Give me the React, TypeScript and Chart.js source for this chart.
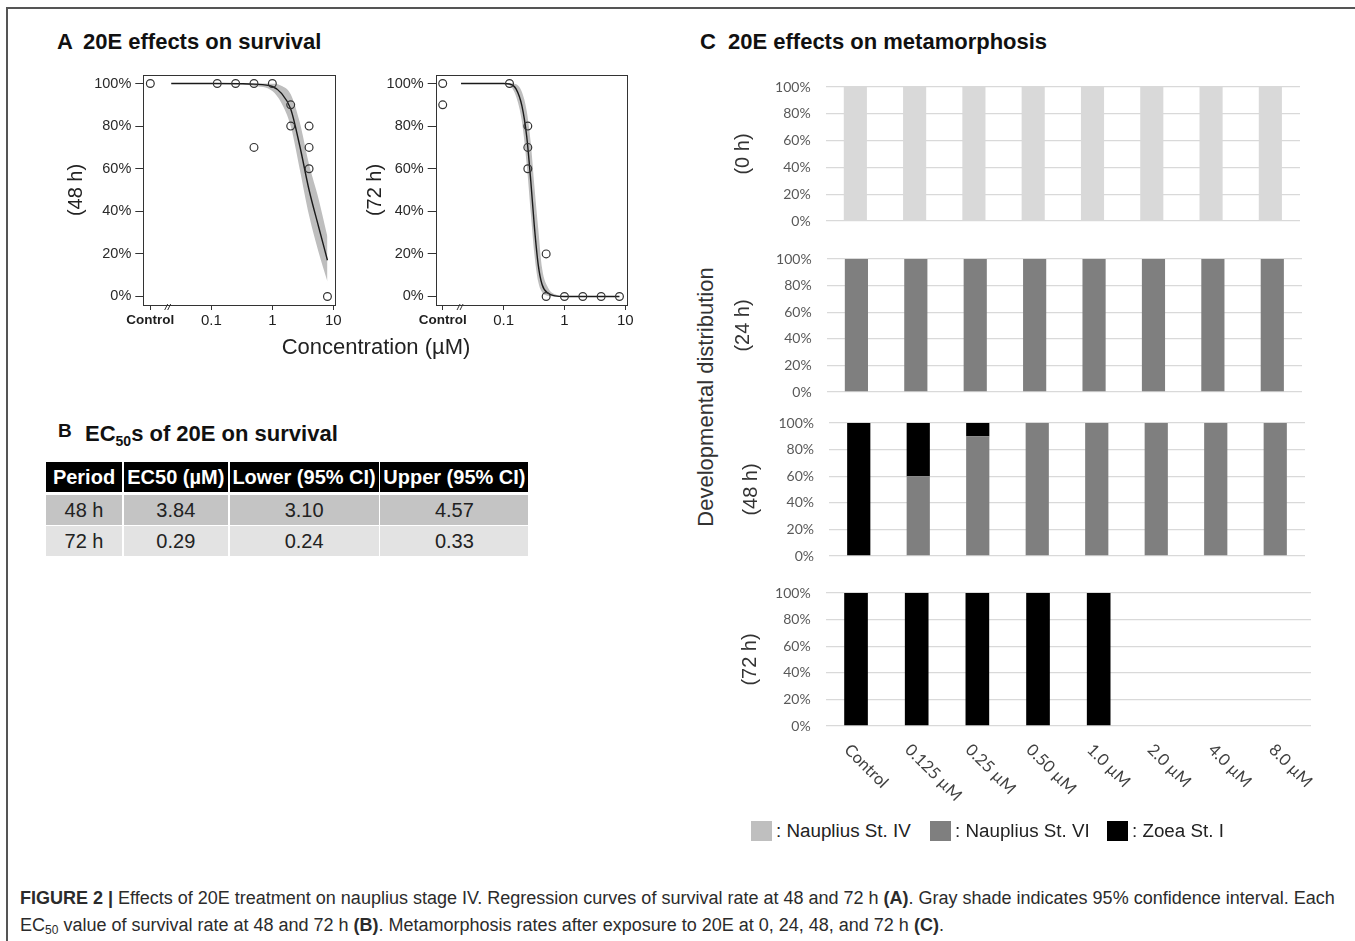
import React, { useEffect, useRef } from 'react';
import { Chart, registerables } from 'chart.js';

Chart.register(...registerables);

const SANS = '"Liberation Sans", Arial, Helvetica, sans-serif';
const XL = 'Lato, "Open Sans", sans-serif';

// ---------------- Panel A: survival (µM, log scale; Control drawn at 0.01) ----------------
const controlPosition = 0.01;
const axisBreakAt = 0.02;
const xTickValues = [0.01, 0.1, 1, 10];
const xTickLabels = ['Control', '0.1', '1', '10'];
const yTickValuesA = [0, 20, 40, 60, 80, 100];

const obs48Conc = [controlPosition, 0.125, 0.25, 0.5, 0.5, 1, 2, 2, 4, 4, 4, 8];
const obs48Surv = [100, 100, 100, 100, 70, 100, 90, 80, 80, 70, 60, 0];
const fit48Conc = [0.022, 0.1, 0.3, 0.5, 1, 1.4, 2, 2.8, 4, 5.7, 8];
const fit48Surv = [100, 100, 99.9, 99.7, 98.6, 95.5, 88, 71, 50, 33, 17];
const fit48Upper = [100, 100, 100, 100, 99.9, 99, 95, 82, 62, 46, 28];
const fit48Lower = [100, 100, 99.7, 99, 96.5, 91, 80, 60, 38, 21, 7];

const obs72Conc = [controlPosition, controlPosition, 0.125, 0.25, 0.25, 0.25, 0.5, 0.5, 1, 2, 4, 8];
const obs72Surv = [100, 90, 100, 80, 70, 60, 20, 0, 0, 0, 0, 0];
const fit72Conc = [0.02, 0.1, 0.125, 0.16, 0.2, 0.24, 0.28, 0.32, 0.37, 0.43, 0.54, 0.7, 1, 8];
const fit72Surv = [100, 100, 99.8, 97.5, 89.5, 75, 54, 33, 15, 5.5, 1.5, 0.3, 0, 0];
const fit72Upper = [100, 100, 100, 99.6, 96, 87, 72, 52, 32, 13, 4, 1, 0.2, 0];
const fit72Lower = [100, 100, 99.2, 94, 82, 62, 39, 20, 7, 2, 0.3, 0, 0, 0];

// ---------------- Panel B: EC50 table ----------------
const tableHeader = ['Period', 'EC50 (µM)', 'Lower (95% CI)', 'Upper (95% CI)'];
const tableRows = [
  ['48 h', '3.84', '3.10', '4.57'],
  ['72 h', '0.29', '0.24', '0.33'],
];

// ---------------- Panel C: metamorphosis ----------------
const categories = ['Control', '0.125 µM', '0.25 µM', '0.50 µM', '1.0 µM', '2.0 µM', '4.0 µM', '8.0 µM'];
const stageNames = ['Nauplius St. IV', 'Nauplius St. VI', 'Zoea St. I'];
const stageColors = ['#d9d9d9', '#7f7f7f', '#000000'];
const legendColors = ['#bfbfbf', '#7f7f7f', '#000000'];
const yTickValuesC = [0, 20, 40, 60, 80, 100];

const h0IV = [100, 100, 100, 100, 100, 100, 100, 100];
const h0VI = [0, 0, 0, 0, 0, 0, 0, 0];
const h0Zoea = [0, 0, 0, 0, 0, 0, 0, 0];
const h24IV = [0, 0, 0, 0, 0, 0, 0, 0];
const h24VI = [100, 100, 100, 100, 100, 100, 100, 100];
const h24Zoea = [0, 0, 0, 0, 0, 0, 0, 0];
const h48IV = [0, 0, 0, 0, 0, 0, 0, 0];
const h48VI = [0, 60, 90, 100, 100, 100, 100, 100];
const h48Zoea = [100, 40, 10, 0, 0, 0, 0, 0];
const h72IV = [0, 0, 0, 0, 0, 0, 0, 0];
const h72VI = [0, 0, 0, 0, 0, 0, 0, 0];
const h72Zoea = [100, 100, 100, 100, 100, 0, 0, 0];

type SurvProps = {
  title: string;
  obsX: number[]; obsY: number[];
  fitX: number[]; fitY: number[]; upper: number[]; lower: number[];
  left: number; top: number; width: number; height: number;
  yAxisWidth: number; titleOffset: number; padRight: number; padTop: number; xAxisHeight: number;
};

function SurvivalChart(p: SurvProps) {
  const ref = useRef<HTMLCanvasElement | null>(null);
  useEffect(() => {
    const canvas = ref.current;
    if (!canvas) return;
    const pts = (xs: number[], ys: number[]) => xs.map((x, i) => ({ x, y: ys[i] }));
    const frame = {
      id: 'frame',
      afterDraw(chart: any) {
        const { ctx, chartArea: a } = chart;
        const xs = chart.scales.x;
        ctx.save();
        ctx.strokeStyle = '#333';
        ctx.lineWidth = 1;
        ctx.strokeRect(Math.round(a.left) + 0.5, Math.round(a.top) + 0.5, Math.round(a.right - a.left), Math.round(a.bottom - a.top));
        const bx = xs.getPixelForValue(axisBreakAt);
        const by = a.bottom + 2;
        ctx.beginPath();
        ctx.moveTo(bx - 4, by + 3); ctx.lineTo(bx - 1, by - 3);
        ctx.moveTo(bx - 1, by + 3); ctx.lineTo(bx + 2, by - 3);
        ctx.stroke();
        ctx.restore();
      },
    };
    const chart = new Chart(canvas, {
      type: 'line',
      data: {
        datasets: [
          {
            data: pts(p.obsX, p.obsY), showLine: false, pointRadius: 3.9, pointBorderWidth: 1.2,
            pointBorderColor: '#333', pointBackgroundColor: 'rgba(255,255,255,0)', borderColor: '#333',
          },
          {
            data: pts(p.fitX, p.fitY), borderColor: '#1a1a1a', borderWidth: 1.4, pointRadius: 0,
            cubicInterpolationMode: 'monotone', fill: false,
          },
          {
            data: pts(p.fitX, p.upper), borderWidth: 0, borderColor: 'rgba(0,0,0,0)', pointRadius: 0,
            cubicInterpolationMode: 'monotone', fill: false,
          },
          {
            data: pts(p.fitX, p.lower), borderWidth: 0, borderColor: 'rgba(0,0,0,0)', pointRadius: 0,
            cubicInterpolationMode: 'monotone', fill: 2, backgroundColor: '#bebebe',
          },
        ] as any,
      },
      options: {
        animation: false,
        responsive: false,
        layout: { padding: { left: 0, top: p.padTop, right: p.padRight, bottom: 0 } },
        plugins: { legend: { display: false }, tooltip: { enabled: false } },
        scales: {
          x: {
            type: 'logarithmic', bounds: 'data', min: 0.00767, max: 10.64,
            afterBuildTicks: (s: any) => { s.ticks = xTickValues.map((v) => ({ value: v })); },
            afterFit: (s: any) => { s.height = p.xAxisHeight; },
            grid: { drawOnChartArea: false, drawTicks: true, tickLength: 5, color: '#333' },
            border: { display: false },
            ticks: {
              autoSkip: false, maxRotation: 0, minRotation: 0, padding: 2, color: '#1e1e1e',
              font: (ctx: any) => (ctx.index === 0 ? { family: SANS, size: 13.5, weight: 'bold' } : { family: SANS, size: 15 }),
              callback: (_v: any, i: number) => xTickLabels[i],
            },
          },
          y: {
            type: 'linear', bounds: 'data', min: -4, max: 104,
            afterBuildTicks: (s: any) => { s.ticks = yTickValuesA.map((v) => ({ value: v })); },
            afterFit: (s: any) => { s.width = p.yAxisWidth; },
            grid: { drawOnChartArea: false, drawTicks: true, tickLength: 8, color: '#333' },
            border: { display: false },
            ticks: { padding: 4, color: '#2a2a2a', font: { family: SANS, size: 14.5 }, callback: (v: any) => v + '%' },
            title: {
              display: true, text: p.title, color: '#222', font: { family: SANS, size: 20 },
              padding: { top: p.titleOffset - 12, bottom: 0 },
            },
          },
        },
      } as any,
      plugins: [frame],
    });
    return () => chart.destroy();
  }, []);
  return (
    <canvas ref={ref} width={p.width} height={p.height}
      style={{ position: 'absolute', left: p.left, top: p.top, width: p.width, height: p.height }} />
  );
}

type StageProps = {
  title: string; iv: number[]; vi: number[]; zoea: number[];
  left: number; top: number; width: number; height: number;
  yAxisWidth: number; titleOffset: number; padBottom: number; showLabels: boolean;
};

const C_PAD_TOP = 30;

function StageChart(p: StageProps) {
  const ref = useRef<HTMLCanvasElement | null>(null);
  useEffect(() => {
    const canvas = ref.current;
    if (!canvas) return;
    const labelPlugin = {
      id: 'rotLabels',
      afterDraw(chart: any) {
        if (!p.showLabels) return;
        const { ctx, chartArea: a } = chart;
        const xs = chart.scales.x;
        ctx.save();
        ctx.fillStyle = '#404040';
        ctx.font = `16.5px ${XL}`;
        ctx.textAlign = 'left';
        ctx.textBaseline = 'middle';
        categories.forEach((lab, i) => {
          const px = xs.getPixelForValue(i);
          ctx.save();
          ctx.translate(px - 9, a.bottom + 21);
          ctx.rotate(Math.PI / 4);
          ctx.fillText(lab, 0, 0);
          ctx.restore();
        });
        ctx.restore();
      },
    };
    const series = [p.iv, p.vi, p.zoea];
    const chart = new Chart(canvas, {
      type: 'bar',
      data: {
        labels: categories,
        datasets: stageNames.map((name, k) => ({
          label: name, data: series[k], backgroundColor: stageColors[k],
          barPercentage: 0.39, categoryPercentage: 1, borderWidth: 0,
        })),
      },
      options: {
        animation: false,
        responsive: false,
        layout: { padding: { left: 0, top: C_PAD_TOP, right: 10, bottom: p.padBottom } },
        plugins: { legend: { display: false }, tooltip: { enabled: false } },
        scales: {
          x: {
            stacked: true,
            grid: { display: false }, border: { display: false }, ticks: { display: false },
            afterFit: (s: any) => { s.height = 0; },
          },
          y: {
            stacked: true, min: 0, max: 100, bounds: 'data',
            afterBuildTicks: (s: any) => { s.ticks = yTickValuesC.map((v) => ({ value: v })); },
            afterFit: (s: any) => { s.width = p.yAxisWidth; },
            grid: { color: '#d9d9d9', lineWidth: 1.3, drawTicks: false },
            border: { display: false },
            ticks: { padding: 15, color: '#595959', font: { family: XL, size: 14 }, callback: (v: any) => v + '%' },
            title: {
              display: true, text: p.title, color: '#333', font: { family: SANS, size: 20 },
              padding: { top: p.titleOffset - 12, bottom: 0 },
            },
          },
        },
      } as any,
      plugins: [labelPlugin],
    });
    return () => chart.destroy();
  }, []);
  return (
    <canvas ref={ref} width={p.width} height={p.height}
      style={{ position: 'absolute', left: p.left, top: p.top, width: p.width, height: p.height }} />
  );
}

const colWidths = [76, 104, 149, 148];
const colGap = 1.8;

function EcTable() {
  const rowTops = [0, 32.5, 64];
  const rowHeights = [30, 30, 30];
  const rowBg = ['#000000', '#c4c4c4', '#e3e3e3'];
  const rows = [tableHeader, ...tableRows];
  return (
    <div style={{ position: 'absolute', left: 46, top: 462 }}>
      {rows.map((r, ri) => {
        let x = 0;
        return r.map((cell, ci) => {
          const l = x;
          x += colWidths[ci] + colGap;
          return (
            <div key={ri + '-' + ci} style={{
              position: 'absolute', left: l, top: rowTops[ri], width: colWidths[ci], height: rowHeights[ri],
              background: rowBg[ri], color: ri === 0 ? '#fff' : '#222', fontFamily: SANS,
              fontWeight: ri === 0 ? 'bold' : 'normal', fontSize: 20, lineHeight: rowHeights[ri] + 'px',
              textAlign: 'center', whiteSpace: 'nowrap', overflow: 'visible',
            }}>{cell}</div>
          );
        });
      })}
    </div>
  );
}

export default function App() {
  const txt = (extra: any) => ({ position: 'absolute' as const, fontFamily: SANS, lineHeight: 1, whiteSpace: 'nowrap' as const, ...extra });
  return (
    <div style={{ position: 'absolute', left: 0, top: 0, width: 1355, height: 941, background: '#fff', overflow: 'hidden' }}>
      <div style={{ position: 'absolute', left: 6, top: 7, width: 1360, height: 940, borderTop: '2px solid #555', borderLeft: '2px solid #555' }} />

      <div style={txt({ left: 57, top: 31.3, fontSize: 22, fontWeight: 'bold', color: '#111' })}>A</div>
      <div style={txt({ left: 83, top: 31.3, fontSize: 22, fontWeight: 'bold', color: '#111' })}>20E effects on survival</div>
      <div style={txt({ left: 700, top: 31.3, fontSize: 22, fontWeight: 'bold', color: '#111' })}>C</div>
      <div style={txt({ left: 728, top: 31.3, fontSize: 22, fontWeight: 'bold', color: '#111' })}>20E effects on metamorphosis</div>

      <SurvivalChart title="(48 h)" obsX={obs48Conc} obsY={obs48Surv} fitX={fit48Conc} fitY={fit48Surv}
        upper={fit48Upper} lower={fit48Lower} left={40} top={55} width={305} height={280}
        yAxisWidth={103.3} titleOffset={36} padRight={10} padTop={20} xAxisHeight={30} />
      <SurvivalChart title="(72 h)" obsX={obs72Conc} obsY={obs72Surv} fitX={fit72Conc} fitY={fit72Surv}
        upper={fit72Upper} lower={fit72Lower} left={345} top={55} width={292} height={280}
        yAxisWidth={90.7} titleOffset={30} padRight={10} padTop={20} xAxisHeight={30} />
      <div style={txt({ left: 176, top: 336, width: 400, textAlign: 'center', fontSize: 22, color: '#222' })}>Concentration (µM)</div>

      <div style={txt({ left: 58, top: 421, fontSize: 19, fontWeight: 'bold', color: '#111' })}>B</div>
      <div style={txt({ left: 85, top: 423.4, fontSize: 22, fontWeight: 'bold', color: '#111' })}>
        EC<sub style={{ fontSize: 14, verticalAlign: -5 }}>50</sub>s of 20E on survival
      </div>
      <EcTable />

      <StageChart title="(0 h)" iv={h0IV} vi={h0VI} zoea={h0Zoea} left={720} top={57.3} width={590} height={194}
        yAxisWidth={105.7} titleOffset={23.5} padBottom={30} showLabels={false} />
      <StageChart title="(24 h)" iv={h24IV} vi={h24VI} zoea={h24Zoea} left={720} top={229} width={592} height={193}
        yAxisWidth={106.7} titleOffset={23.5} padBottom={30} showLabels={false} />
      <StageChart title="(48 h)" iv={h48IV} vi={h48VI} zoea={h48Zoea} left={720} top={392.7} width={595} height={193}
        yAxisWidth={109} titleOffset={31.5} padBottom={30} showLabels={false} />
      <StageChart title="(72 h)" iv={h72IV} vi={h72VI} zoea={h72Zoea} left={720} top={562.7} width={601} height={253}
        yAxisWidth={105.7} titleOffset={30} padBottom={90} showLabels={true} />

      <div style={txt({ left: 506, top: 385, width: 400, height: 24, lineHeight: '24px', textAlign: 'center', fontSize: 22, color: '#333', transform: 'rotate(-90deg)' })}>
        Developmental distribution
      </div>

      {stageNames.map((name, k) => {
        const lefts = [751, 930, 1107];
        return (
          <div key={name} style={{ position: 'absolute', left: lefts[k], top: 821, height: 20, display: 'flex', alignItems: 'center' }}>
            <div style={{ width: 21, height: 20, background: legendColors[k] }} />
            <div style={{ marginLeft: 4, fontFamily: SANS, fontSize: 18.8, color: '#222', whiteSpace: 'nowrap', lineHeight: '20px' }}>: {name}</div>
          </div>
        );
      })}

      <div style={{ position: 'absolute', left: 20, top: 884.5, width: 1335, fontFamily: SANS, fontSize: 18, lineHeight: '27px', color: '#2b2b2b', whiteSpace: 'nowrap' }}>
        <div><b>FIGURE 2 |</b> Effects of 20E treatment on nauplius stage IV. Regression curves of survival rate at 48 and 72 h <b>(A)</b>. Gray shade indicates 95% confidence interval. Each</div>
        <div>EC<sub style={{ fontSize: 12, verticalAlign: -3 }}>50</sub> value of survival rate at 48 and 72 h <b>(B)</b>. Metamorphosis rates after exposure to 20E at 0, 24, 48, and 72 h <b>(C)</b>.</div>
      </div>
    </div>
  );
}
